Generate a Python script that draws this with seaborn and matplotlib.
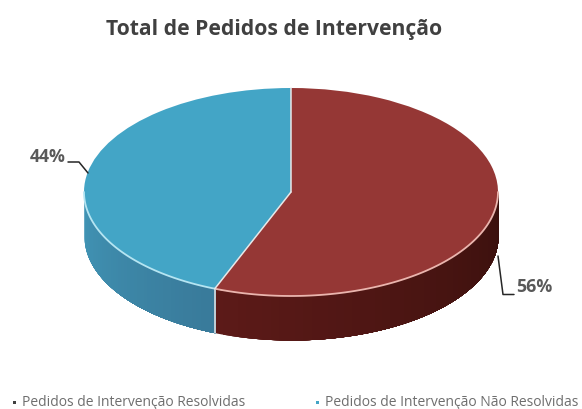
#!/usr/bin/env python3
import numpy as np
import matplotlib.pyplot as plt
from matplotlib.patches import Rectangle
import seaborn as sns

# Chart data
TITLE = "Total de Pedidos de Intervenção"
LABELS = ["Pedidos de Intervenção Resolvidas", "Pedidos de Intervenção Não Resolvidas"]
VALUES = [56, 44]
PCT_TEXT = ["56%", "44%"]
TOP_COLORS = ["#953735", "#43a5c6"]
# wall colours run from the left end of each slice's wall to its right end
WALL_COLORS = [["#5c1a18", "#3a100d"], ["#4195b6", "#397a9a"]]
RIM_COLORS = ["#eab5ae", "#b5e5f2"]

W, H = 582, 409
CX, CY, RX, RY, DEPTH = 291, 192, 207, 104, 44


def px(x, y):
    """Reference pixel -> data coordinates (the pie is a unit circle)."""
    return (x - CX) / RX, (CY - y) / RY


sns.set_theme(style="white")
plt.rcParams['font.family'] = ['Open Sans', 'DejaVu Sans']

fig = plt.figure(figsize=(W / 100, H / 100), dpi=100)
ax = fig.add_axes([0, 0, 1, 1])

wedges, _ = ax.pie(VALUES, colors=TOP_COLORS, startangle=90, counterclock=False,
                   radius=1, wedgeprops=dict(linewidth=0, zorder=5))
ax.set_aspect('auto')
ax.set_xlim(px(0, 0)[0], px(W, 0)[0])
ax.set_ylim(px(0, H)[1], px(0, 0)[1])
ax.axis('off')

# Side wall: only the front half of the disc shows (angles -180..0)
depth = DEPTH / RY
ends = 90 - 360 * np.cumsum(VALUES) / np.sum(VALUES)
starts = np.concatenate([[90], ends[:-1]])
for start, end, wall, rim in zip(starts, ends, WALL_COLORS, RIM_COLORS):
    lo, hi = max(end, -180), min(start, 0)
    edges = np.linspace(lo, hi, 50)
    shades = sns.blend_palette(wall, len(edges) - 1)
    # each strip runs on to the end of the wall, the next one paints over it
    for a0, shade in zip(edges[:-1], shades):
        t = np.radians(np.linspace(a0, hi, 60))
        ax.fill_between(np.cos(t), np.sin(t), np.sin(t) - depth,
                        color=shade, linewidth=0, zorder=2)
    t = np.radians(np.linspace(lo, hi, 80))
    ax.plot(np.cos(t), np.sin(t), color=rim, lw=1.3, zorder=6)

# Pale lines between the slices, on the top face and down the wall
for a in starts:
    ax.plot([0, np.cos(np.radians(a))], [0, np.sin(np.radians(a))],
            color="#e8e8e8", lw=1.1, zorder=6)
seam = np.radians(ends[0])
ax.plot([np.cos(seam)] * 2, [np.sin(seam), np.sin(seam) - depth],
        color="#e6e6e6", lw=1.1, zorder=4)

# Leader lines and percentage labels
for pts in ([(68, 162), (79, 162), (88, 173)], [(498, 256), (503, 294.5), (514, 294.5)]):
    xy = np.array([px(*p) for p in pts])
    ax.plot(xy[:, 0], xy[:, 1], color="#262626", lw=1.1, zorder=7)
for text, pos, ha in zip(PCT_TEXT, [(516, 287), (66, 157)], ["left", "right"]):
    ax.text(*px(*pos), text, ha=ha, va="center", fontsize=12.8,
            fontweight="bold", color="#595959")

ax.text(*px(274, 30), TITLE, ha="center", va="center", fontsize=15.2,
        fontweight="bold", color="#404040")

# Legend entries sit far apart along the bottom edge
for text, color, tx, mx in zip(LABELS, ["#404040", "#43a5c6"], [22, 325], [13, 316]):
    ax.text(*px(tx, 403), text, ha="left", va="center", fontsize=10, color="#6e6e6e")
    mxy = px(mx, 404)
    ax.add_patch(Rectangle(mxy, 3 / RX, 3 / RY, color=color, lw=0))

fig.savefig("out.png", dpi=100)
plt.close(fig)
